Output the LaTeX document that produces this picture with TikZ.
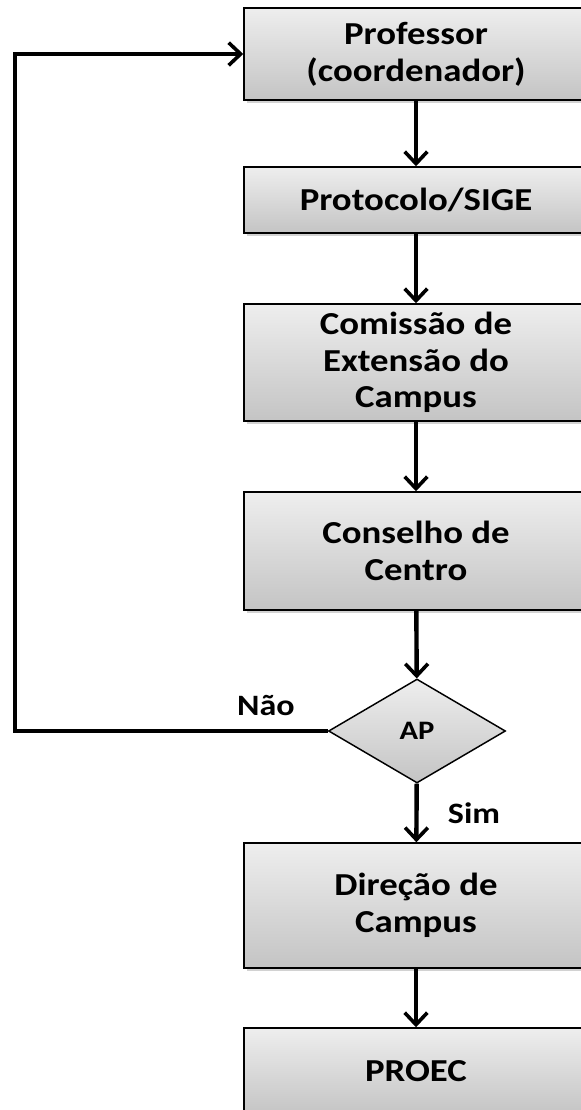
\documentclass[tikz,border=0pt]{standalone}
\usepackage{fontspec}
\setmainfont{Carlito}[FakeStretch=1.15]
\usetikzlibrary{arrows.meta,shapes.geometric,shadows}
\definecolor{boxtop}{HTML}{EEEEEE}
\definecolor{boxbot}{HTML}{C4C4C4}
\tikzset{
  stepbox/.style={draw=black, line width=1.1pt, rectangle, inner sep=0pt,
    minimum width=258pt, top color=boxtop, bottom color=boxbot,
    align=center, font=\fontsize{24}{27.5}\selectfont\bfseries,
    drop shadow={opacity=0.35, shadow xshift=2pt, shadow yshift=-2.5pt}},
  decision/.style={draw=black, line width=1.1pt, diamond, inner sep=0pt,
    minimum width=132.75pt, minimum height=78pt, top color=boxtop, bottom color=boxbot,
    font=\fontsize{20}{22}\selectfont\bfseries},
  lbl/.style={font=\fontsize{22.2}{24}\selectfont\bfseries},
  arr/.style={line width=3.3pt, -{Straight Barb[length=9pt,width=17pt,line width=2.7pt]}}
}
\begin{document}
\begin{tikzpicture}[x=0.75pt,y=-0.75pt]
\useasboundingbox (0,0) rectangle (581,1110);
\fill[white] (0,0) rectangle (581,1110);
\clip (0,0) rectangle (581,1110);
\node[stepbox, minimum height=69pt] (prof) at (416,54) {Professor\\(coordenador)};
\node[stepbox, minimum height=49.5pt] (prot) at (416,200) {Protocolo/SIGE};
\node[stepbox, minimum height=87.75pt] (com) at (416,362.5) {Comissão de\\Extensão do\\Campus};
\node[stepbox, minimum height=88.5pt] (cons) at (416,551) {Conselho de\\Centro};
\node[decision] (ap) at (417,731) {AP};
\node[stepbox, minimum height=93.75pt] (dir) at (416,905.5) {Direção de\\Campus};
\node[stepbox, minimum height=65.25pt] (proec) at (416,1071.5) {PROEC};
\coordinate (lx) at (15,731);
\draw[arr] (prof) -- (prot);
\draw[arr] (prot) -- (com);
\draw[arr] (com) -- (cons);
\draw[arr] (cons) -- (ap);
\draw[arr] (ap) -- (dir);
\draw[arr] (dir) -- (proec);
\draw[arr] (ap.west) -- (lx) |- (prof.west);
\node[lbl] (nao) at (266,706) {Não};
\node[lbl] (sim) at (474,813) {Sim};
\end{tikzpicture}
\end{document}
